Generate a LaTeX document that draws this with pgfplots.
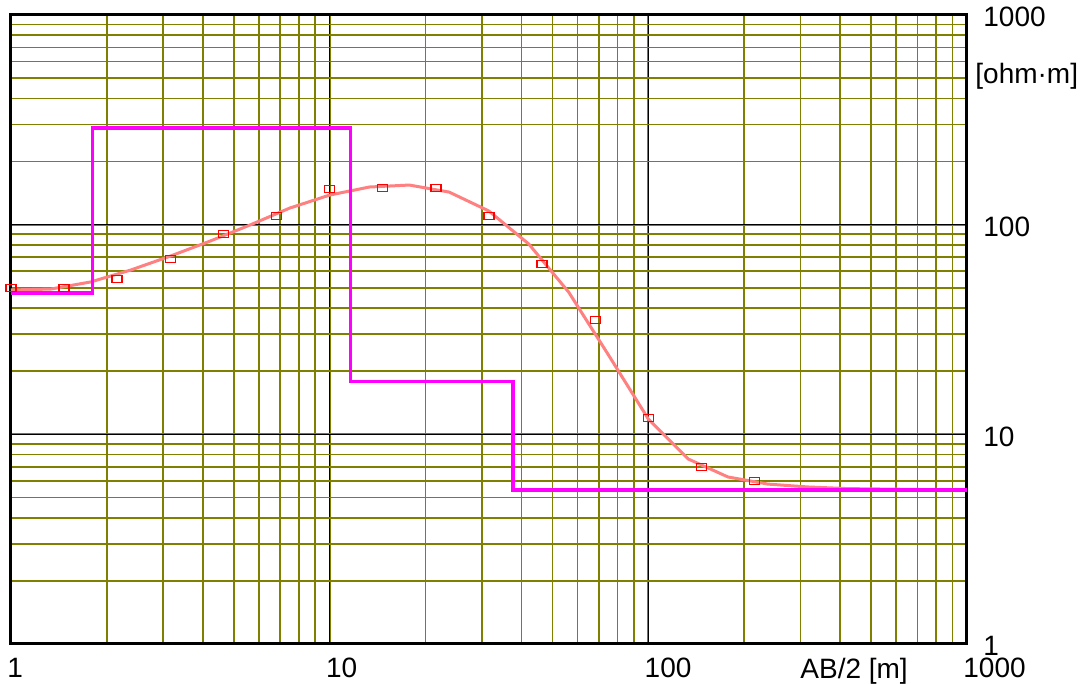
\documentclass[border=0pt]{standalone}
\usepackage{pgfplots}
\pgfplotsset{compat=1.18}
\usepackage{fontspec}
\setmainfont{Liberation Sans}
\definecolor{gridolive}{RGB}{128,128,0}
\definecolor{curvepink}{RGB}{255,128,128}
\definecolor{pmag}{RGB}{255,0,255}
\begin{document}
\begin{tikzpicture}[font=\fontsize{14}{16}\selectfont]
\path[use as bounding box] (-5.5pt,-20pt) rectangle (536.5pt,322pt);
\begin{axis}[
  at={(0,0)}, anchor=south west,
  scale only axis, width=478pt, height=314.5pt,
  xmode=log, ymode=log,
  xmin=1, xmax=1000, ymin=1, ymax=1000,
  xtick={1,10,100,1000}, xticklabels={1,10,100,1000},
  ytick={1,10,100,1000}, yticklabels={1,10,100,1000},
  grid=both,
  major grid style={black, line width=0.8pt},
  minor grid style={gridolive, line width=0.85pt},
  major tick length=0pt, minor tick length=0pt,
  axis line style={line width=1.5pt},
  yticklabel pos=right,
  xticklabel style={anchor=north west, inner sep=0pt, yshift=-7pt, xshift=-2pt},
  yticklabel style={anchor=north west, inner sep=0pt, xshift=8pt, yshift=4pt},
]
\addplot[curvepink, line width=1.5pt] coordinates {
(1,48.8) (1.3335,49.3) (1.7783,53.3) (2.3714,60.7) (3.1623,70.8) (4.2170,83.5)
(5.6234,99.6) (7.4989,120) (10,138.4) (13.335,151.2) (17.783,154.5) (23.714,143)
(31.623,116.1) (42.170,80.8) (56.234,47.7) (74.989,23.9) (100,11.83) (133.35,7.63)
(177.83,6.26) (237.14,5.79) (316.23,5.61) (421.70,5.51) (562.34,5.48) (749.89,5.45) (1000,5.43)
};
\addplot[pmag, line width=1.6pt, const plot] coordinates {
(1,47.2) (1.8,289) (11.6,17.9) (37.6,5.43) (1000,5.43)
};
\addplot[only marks, red, mark=square, mark size=2.5pt, mark options={yscale=0.7, line width=0.7pt}] coordinates {
(1,49.9) (1.468,49.9) (2.154,55.0) (3.162,68.5) (4.642,90.2) (6.813,109.9) (10,147.8)
(14.68,149.4) (21.54,149.4) (31.62,110) (46.42,64.9) (68.13,35.1) (100,11.96) (146.8,6.98) (215.4,5.99)
};
\end{axis}
\node[anchor=north west, inner sep=0pt] at (394.5pt,-7pt) {AB/2 [m]};
\node[anchor=north west, inner sep=0pt] at (482pt,290.5pt) {[ohm·m]};
\end{tikzpicture}
\end{document}
